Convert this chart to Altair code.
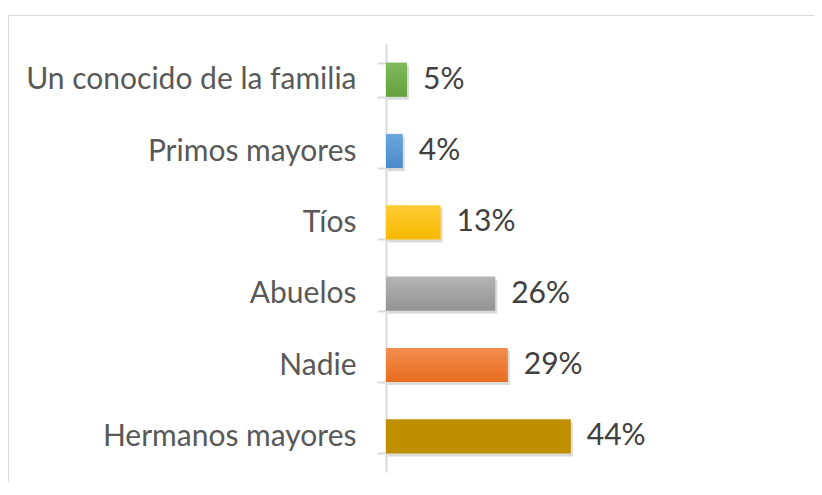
import altair as alt
import pandas as pd

categories = ["Un conocido de la familia", "Primos mayores", "Tíos", "Abuelos", "Nadie", "Hermanos mayores"]
values = [5, 4, 13, 26, 29, 44]
labels = ["5%", "4%", "13%", "26%", "29%", "44%"]
gradients = [
    ("#80ba5e", "#63a13c"),
    ("#6ba7de", "#4a8acb"),
    ("#ffcb33", "#f7b900"),
    ("#b4b4b4", "#939393"),
    ("#f28e4f", "#e86c1e"),
    ("#bf8f00", "#bf8f00"),
]

df = pd.DataFrame({"cat": categories, "val": values, "label": labels})

FONT = "Lato"
FS = 30
y_enc = alt.Y(
    "cat:N",
    sort=categories,
    title=None,
    scale=alt.Scale(paddingInner=0.52, paddingOuter=0.26),
    axis=alt.Axis(
        tickBand="extent",
        ticks=True,
        tickSize=9,
        tickWidth=2,
        tickColor="#d9d9d9",
        domainColor="#d9d9d9",
        domainWidth=2,
        labelPadding=21,
        labelFont=FONT,
        labelFontSize=FS,
        labelColor="#595959",
        labelLimit=500,
    ),
)
x_enc = alt.X("val:Q", scale=alt.Scale(domain=[0, 100]), axis=None, title=None)

base = alt.Chart(df)

shadow = base.mark_bar(color="#000000", opacity=0.14, xOffset=2, yOffset=3).encode(x=x_enc, y=y_enc)

bar_layers = []
for cat, (c1, c2) in zip(categories, gradients):
    bar_layers.append(
        base.transform_filter(alt.datum.cat == cat)
        .mark_bar(
            color=alt.Gradient(
                gradient="linear",
                stops=[alt.GradientStop(color=c1, offset=0), alt.GradientStop(color=c2, offset=1)],
                x1=0, x2=0, y1=0, y2=1,
            )
        )
        .encode(x=x_enc, y=y_enc)
    )

text = base.mark_text(align="left", baseline="middle", dx=16, font=FONT, fontSize=FS, color="#404040").encode(
    x=x_enc, y=y_enc, text="label:N"
)

frame = alt.Data(values=[{}])
border_top = alt.Chart(frame).mark_rule(stroke="#d9d9d9", strokeWidth=1).encode(
    x=alt.value(-377.5), x2=alt.value(600), y=alt.value(-28.5)
)
border_left = alt.Chart(frame).mark_rule(stroke="#d9d9d9", strokeWidth=1).encode(
    x=alt.value(-377.5), y=alt.value(-28.5), y2=alt.value(600)
)

chart = (
    alt.layer(border_top, border_left, shadow, *bar_layers, text)
    .properties(
        width=420,
        height=428,
        autosize=alt.AutoSizeParams(type="none"),
        padding={"left": 378, "top": 36, "right": 8, "bottom": 10},
    )
    .configure_view(stroke=None)
)

chart.save("out.html", embed_options={"renderer": "svg", "actions": False})
